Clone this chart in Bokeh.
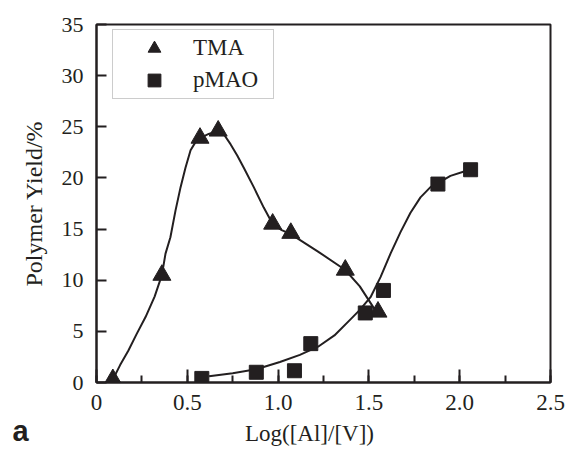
from bokeh.plotting import figure
from bokeh.layouts import column
from bokeh.models import (Range1d, SingleIntervalTicker, CustomJSTickFormatter,
                          Legend, LegendItem, Label)
from bokeh.embed import file_html
from bokeh.resources import INLINE

# --- data ---
tma_x = [0.09, 0.36, 0.57, 0.67, 0.97, 1.07, 1.37, 1.55]
tma_y = [0.3, 10.5, 23.9, 24.6, 15.5, 14.6, 11.0, 6.9]

pmao_x = [0.58, 0.88, 1.09, 1.18, 1.48, 1.58, 1.88, 2.06]
pmao_y = [0.4, 1.0, 1.15, 3.8, 6.8, 9.0, 19.4, 20.8]

# fitted guide curves
tma_curve_x = [0.09, 0.13, 0.175, 0.22, 0.27, 0.32, 0.36, 0.38, 0.407, 0.435, 0.463,
               0.49, 0.518, 0.545, 0.57, 0.618, 0.67, 0.70, 0.738, 0.775, 0.811,
               0.866, 0.921, 0.97, 1.02, 1.07, 1.22, 1.37, 1.45, 1.53]
tma_curve_y = [0.3, 1.7, 3.1, 4.7, 6.4, 8.4, 10.5, 12.6, 14.2, 16.8, 19.1,
               21.0, 22.7, 23.5, 23.9, 24.3, 24.6, 24.3, 23.3, 22.2, 21.0,
               19.1, 17.1, 15.5, 14.9, 14.5, 12.8, 11.0, 9.4, 7.2]

pmao_curve_x = [0.62, 0.75, 0.88, 1.01, 1.12, 1.22, 1.31, 1.40, 1.45, 1.509, 1.564,
                1.619, 1.674, 1.729, 1.784, 1.839, 1.88, 1.949, 2.02, 2.06]
pmao_curve_y = [0.6, 0.9, 1.3, 2.0, 2.7, 3.5, 4.6, 6.2, 7.1, 8.34, 10.3,
                12.6, 14.7, 16.6, 18.1, 19.1, 19.5, 20.2, 20.6, 20.8]

x_ticks_interval = 0.5
y_ticks_interval = 5
x_title = "Log([Al]/[V])"
y_title = "Polymer Yield/%"
panel_letter = "a"

INK = "#231f20"
SERIF = "Liberation Serif"

p = figure(width=566, height=420, output_backend="svg", toolbar_location=None,
           x_range=Range1d(0, 2.5), y_range=Range1d(0, 35),
           min_border_left=96, min_border_right=16, min_border_top=24, min_border_bottom=38)
p.title_location = None
p.frame_align = False
p.margin = 0
p.grid.visible = False
p.outline_line_color = INK
p.outline_line_width = 2
p.background_fill_color = "white"
p.border_fill_color = "white"

# curves
p.line(tma_curve_x, tma_curve_y, line_color=INK, line_width=2, line_join="round")
p.line(pmao_curve_x, pmao_curve_y, line_color=INK, line_width=2, line_join="round")

# markers
r_tma = p.scatter(tma_x, tma_y, marker="triangle", size=18, fill_color=INK, line_color=INK)
r_pmao = p.scatter(pmao_x, pmao_y, marker="square", size=14, fill_color=INK, line_color=INK)

# axes
xa = p.xaxis[0]
xa.ticker = SingleIntervalTicker(interval=x_ticks_interval, num_minor_ticks=2)
xa.formatter = CustomJSTickFormatter(code="return tick == 0 ? '0' : tick.toFixed(1);")
xa.major_tick_in = 13
xa.major_tick_out = 0
xa.minor_tick_in = 7
xa.minor_tick_out = 0
xa.axis_line_width = 2
xa.axis_line_color = INK
xa.major_tick_line_color = INK
xa.major_tick_line_width = 2
xa.minor_tick_line_color = INK
xa.minor_tick_line_width = 2
xa.major_label_text_font = SERIF
xa.major_label_text_font_size = "23px"
xa.major_label_text_color = INK
xa.major_label_standoff = 12

ya = p.yaxis[0]
ya.ticker = SingleIntervalTicker(interval=y_ticks_interval, num_minor_ticks=0)
ya.major_tick_in = 10
ya.major_tick_out = 0
ya.minor_tick_in = 0
ya.minor_tick_out = 0
ya.axis_line_width = 2
ya.axis_line_color = INK
ya.major_tick_line_color = INK
ya.major_tick_line_width = 2
ya.major_label_text_font = SERIF
ya.major_label_text_font_size = "22px"
ya.major_label_text_color = INK
ya.major_label_standoff = 13
ya.axis_label = y_title
ya.axis_label_text_font = SERIF
ya.axis_label_text_font_size = "24px"
ya.axis_label_text_font_style = "normal"
ya.axis_label_text_color = INK
ya.axis_label_standoff = 12

# legend
legend = Legend(items=[LegendItem(label="TMA", renderers=[r_tma]),
                       LegendItem(label="pMAO", renderers=[r_pmao])],
                location=(16, 283), orientation="vertical",
                glyph_width=78, glyph_height=32, label_height=32, spacing=0, padding=2,
                label_standoff=-14, label_width=78, margin=0,
                label_text_font=SERIF, label_text_font_size="23px",
                label_text_color=INK,
                border_line_color="#9a9a9a", border_line_width=1,
                background_fill_color="white", background_fill_alpha=1.0)
p.add_layout(legend)

# bottom strip holding the x-axis title and the panel letter (pixel coordinates)
q = figure(width=566, height=33, output_backend="svg", toolbar_location=None,
           x_range=Range1d(0, 566), y_range=Range1d(0, 33),
           min_border=0, min_border_left=0, min_border_right=0,
           min_border_top=0, min_border_bottom=0)
q.title_location = None
q.frame_align = False
q.margin = 0
q.left = []
q.below = []
q.center = []
q.outline_line_color = None
q.background_fill_color = "white"
q.border_fill_color = "white"
q.add_layout(Label(x=309, y=20, text=x_title, text_font=SERIF,
                   text_font_size="23px", text_color=INK,
                   text_baseline="alphabetic", text_align="center"))
q.add_layout(Label(x=12, y=23, text=panel_letter, text_font="Liberation Sans",
                   text_font_style="bold", text_font_size="29px", text_color=INK,
                   text_baseline="alphabetic", text_align="left"))

layout = column(p, q, spacing=0)
open("out.html", "w").write(file_html(layout, INLINE))
